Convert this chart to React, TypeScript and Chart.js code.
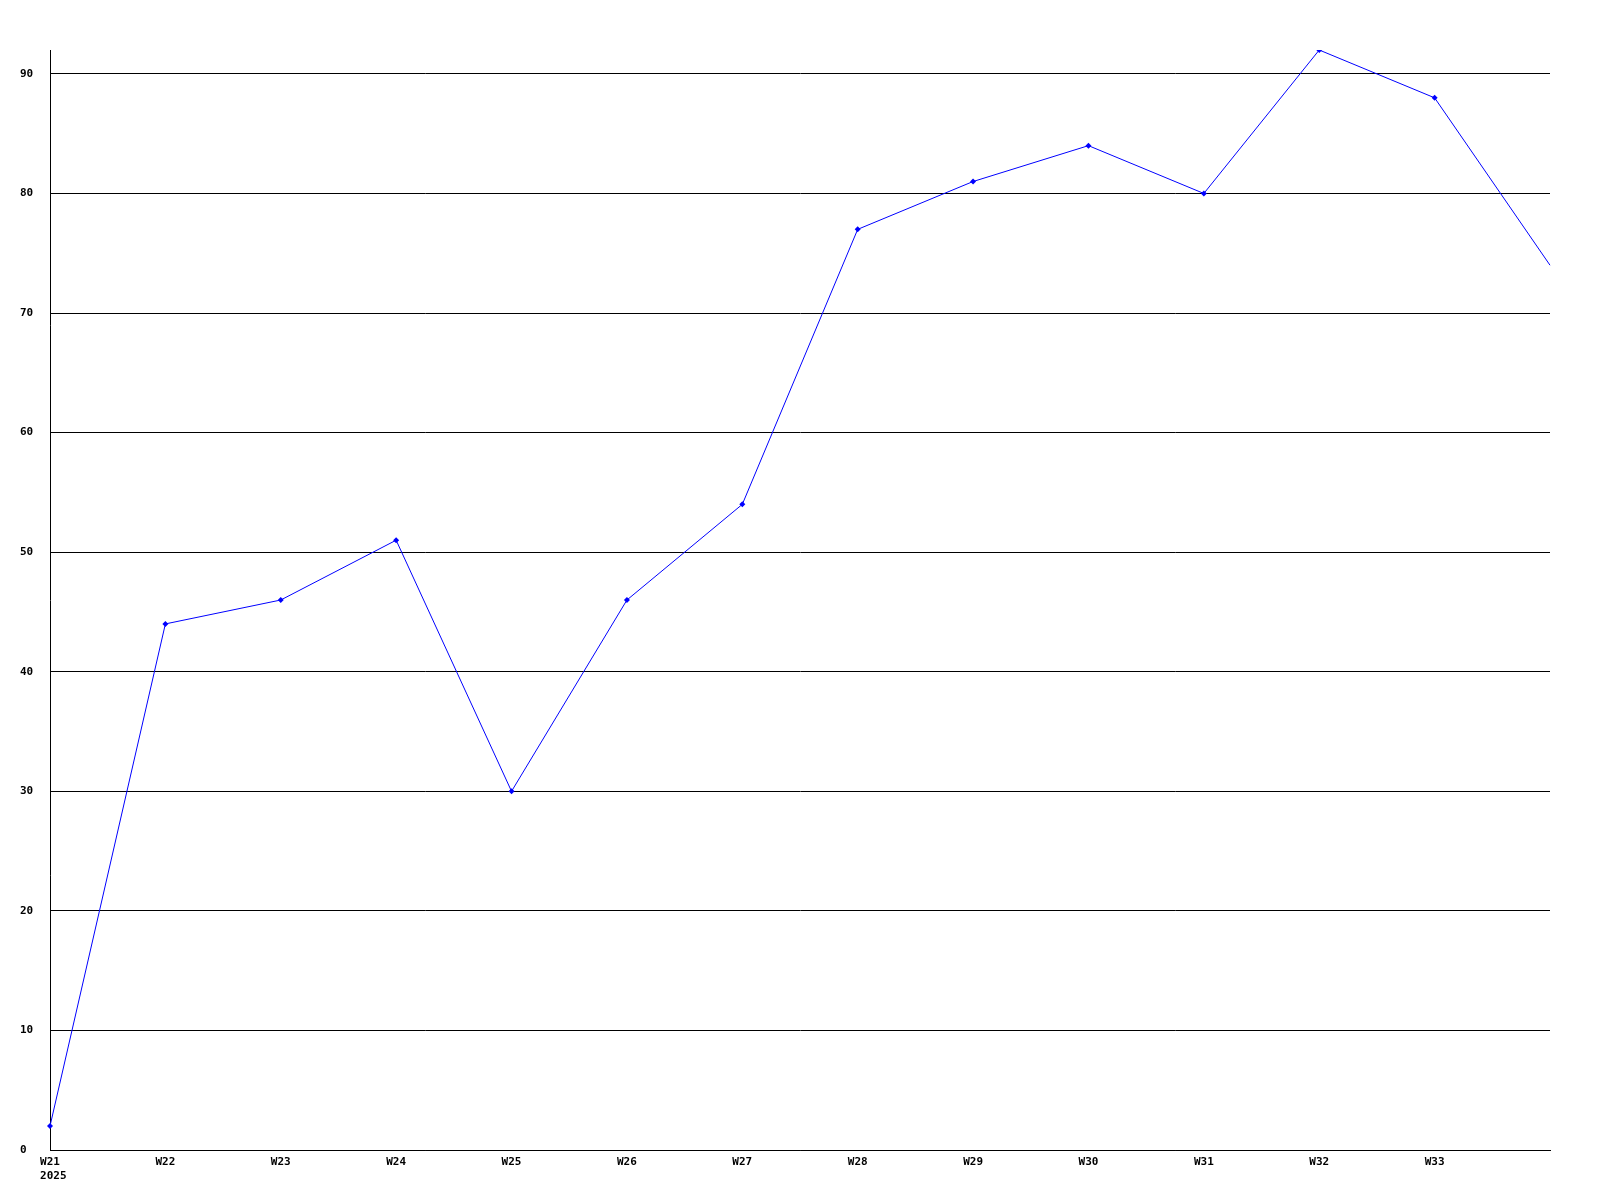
import React, { useEffect, useRef } from "react";
import { Chart, registerables } from "chart.js";

Chart.register(...registerables);

const weeks: string[] = ["W21", "W22", "W23", "W24", "W25", "W26", "W27", "W28", "W29", "W30", "W31", "W32", "W33", "W34"];
const yearLabel = "2025";
const values: number[] = [2, 44, 46, 51, 30, 46, 54, 77, 81, 84, 80, 92, 88, 74];
const yMin = 0;
const yMax = 92;
const yStep = 10;

const FONT = { family: "'DejaVu Sans Mono', 'Liberation Mono', monospace", size: 11, weight: "bold" as const, lineHeight: 1.3 };

export default function App() {
  const ref = useRef<HTMLCanvasElement | null>(null);
  useEffect(() => {
    if (!ref.current) return;
    const labels = weeks.map((w, i) => (i === 0 ? [w, " " + yearLabel] : w));
    const last = values.length - 1;
    const chart = new Chart(ref.current, {
      type: "line",
      data: {
        labels,
        datasets: [
          {
            data: values,
            borderColor: "#0000ff",
            backgroundColor: "#0000ff",
            borderWidth: 1,
            pointStyle: "rectRot",
            pointRadius: (ctx: any) => (ctx.dataIndex === last ? 0 : 3),
            pointBorderWidth: 0,
            tension: 0,
            fill: false,
          },
        ],
      },
      options: {
        animation: false,
        responsive: false,
        devicePixelRatio: 1,
        layout: { padding: { left: 20, top: 50, right: 50, bottom: 0 } },
        plugins: { legend: { display: false }, tooltip: { enabled: false } },
        scales: {
          x: {
            type: "category",
            offset: false,
            grid: { display: false, drawTicks: false },
            border: { display: true, color: "#000", width: 1 },
            ticks: {
              color: "#000",
              font: FONT,
              autoSkip: false,
              maxRotation: 0,
              padding: 5,
              callback: function (this: any, _v: any, i: number) {
                if (i === last) return "";
                return labels[i] as any;
              },
            },
            afterFit: (s: any) => {
              s.height = 50;
            },
          },
          y: {
            min: yMin,
            max: yMax,
            grid: { color: "#000", lineWidth: 1, drawTicks: false },
            border: { display: true, color: "#000", width: 1 },
            ticks: {
              stepSize: yStep,
              includeBounds: false,
              color: "#000",
              font: { ...FONT, lineHeight: 1.2 },
              crossAlign: "far",
              padding: 0,
            },
            afterBuildTicks: (s: any) => {
              s.ticks = s.ticks.filter((t: any) => t.value % yStep === 0);
            },
            afterFit: (s: any) => {
              s.width = 30;
            },
          },
        },
      },
    } as any);
    return () => chart.destroy();
  }, []);
  return (
    <div style={{ position: "fixed", left: 0, top: 0, width: 1600, height: 1200, background: "#fff" }}>
      <canvas ref={ref} width={1600} height={1200} style={{ width: 1600, height: 1200, display: "block" }} />
    </div>
  );
}
